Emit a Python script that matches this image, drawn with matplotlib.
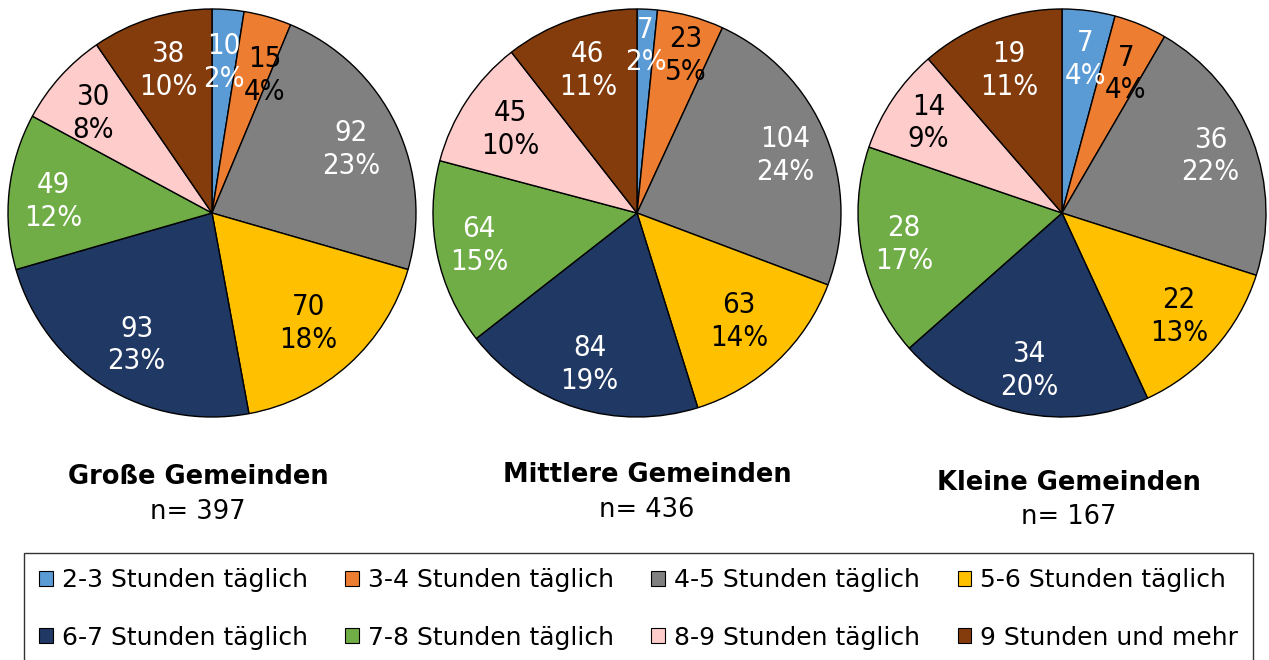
import matplotlib
matplotlib.use("Agg")
import matplotlib.pyplot as plt
from matplotlib.patches import Patch
import numpy as np

categories = ["2-3 Stunden täglich", "3-4 Stunden täglich", "4-5 Stunden täglich",
              "5-6 Stunden täglich", "6-7 Stunden täglich", "7-8 Stunden täglich",
              "8-9 Stunden täglich", "9 Stunden und mehr"]
colors = ["#5B9BD5", "#ED7D31", "#808080", "#FFC000", "#203864", "#70AD47", "#FFCCCC", "#843C0C"]
label_colors = ["white", "black", "white", "black", "white", "white", "black", "white"]

titles = ["Große Gemeinden", "Mittlere Gemeinden", "Kleine Gemeinden"]
n_labels = ["n= 397", "n= 436", "n= 167"]

gross_values = [10, 15, 92, 70, 93, 49, 30, 38]
gross_pct = [2, 4, 23, 18, 23, 12, 8, 10]
mittel_values = [7, 23, 104, 63, 84, 64, 45, 46]
mittel_pct = [2, 5, 24, 14, 19, 15, 10, 11]
klein_values = [7, 7, 36, 22, 34, 28, 14, 19]
klein_pct = [4, 4, 22, 13, 20, 17, 9, 11]

values_all = [gross_values, mittel_values, klein_values]
pct_all = [gross_pct, mittel_pct, klein_pct]

# label placement layout: distance (fraction of radius) and clockwise angle shift (deg)
label_dist = [[0.74, 0.72, 0.75, 0.72, 0.745, 0.78, 0.76, 0.73],
              [0.82, 0.81, 0.78, 0.73, 0.78, 0.79, 0.745, 0.74],
              [0.76, 0.75, 0.78, 0.765, 0.79, 0.79, 0.79, 0.745]]
label_shift = [[0, 5, 1, 1, -2, -2, -2, 0],
               [0, 2, 1, 0, 0, 0, 0, 0],
               [1, 2, 0, 0, 0, 0, 0, 0]]

plt.rcParams['font.family'] = ['DejaVu Sans']

W, H = 1269, 660
fig = plt.figure(figsize=(W / 100, H / 100), dpi=100)

centers_x = [212, 637, 1062]
center_y = 213
r = 204
title_pos = [(198, 477, 512), (647, 475, 510), (1069, 483, 517)]

for i in range(3):
    cx = centers_x[i]
    ax = fig.add_axes([(cx - r) / W, 1 - (center_y + r) / H, 2 * r / W, 2 * r / H])
    vals = values_all[i]
    pcts = pct_all[i]
    wedges, _ = ax.pie(vals, colors=colors, startangle=90, counterclock=False,
                       radius=1.0,
                       wedgeprops=dict(edgecolor="black", linewidth=1.0))
    for w in wedges:
        w.set_clip_on(False)
    for w, v, p, tc, d, s in zip(wedges, vals, pcts, label_colors, label_dist[i], label_shift[i]):
        ang = np.deg2rad((w.theta1 + w.theta2) / 2 - s)
        ax.text(d * np.cos(ang), d * np.sin(ang), f"{v}\n{p}%", ha="center", va="center",
                color=tc, fontsize=21, linespacing=1.22, fontstretch="condensed")
    ax.set_xlim(-1, 1)
    ax.set_ylim(-1, 1)
    ax.set_aspect("equal")
    ax.axis("off")
    tx, ty1, ty2 = title_pos[i]
    fig.text(tx / W, 1 - ty1 / H, titles[i], ha="center", va="center",
             fontsize=18.5, fontweight="bold")
    fig.text(tx / W, 1 - ty2 / H, n_labels[i], ha="center", va="center", fontsize=18.5)

order = [0, 4, 1, 5, 2, 6, 3, 7]
handles = [Patch(facecolor=colors[k], edgecolor="black", linewidth=0.8) for k in order]
labels = [categories[k] for k in order]
leg = fig.legend(handles, labels, ncol=4, loc="upper left",
                 bbox_to_anchor=(24 / W, 1 - 553 / H, (1253 - 24) / W, 0.0),
                 mode="expand", fontsize=18, frameon=True, fancybox=False,
                 edgecolor="black", handlelength=0.55, handleheight=0.55,
                 handletextpad=0.35, labelspacing=1.35, borderpad=0.6, borderaxespad=0)
leg.get_frame().set_linewidth(1.0)

fig.savefig("out.png", dpi=100)
